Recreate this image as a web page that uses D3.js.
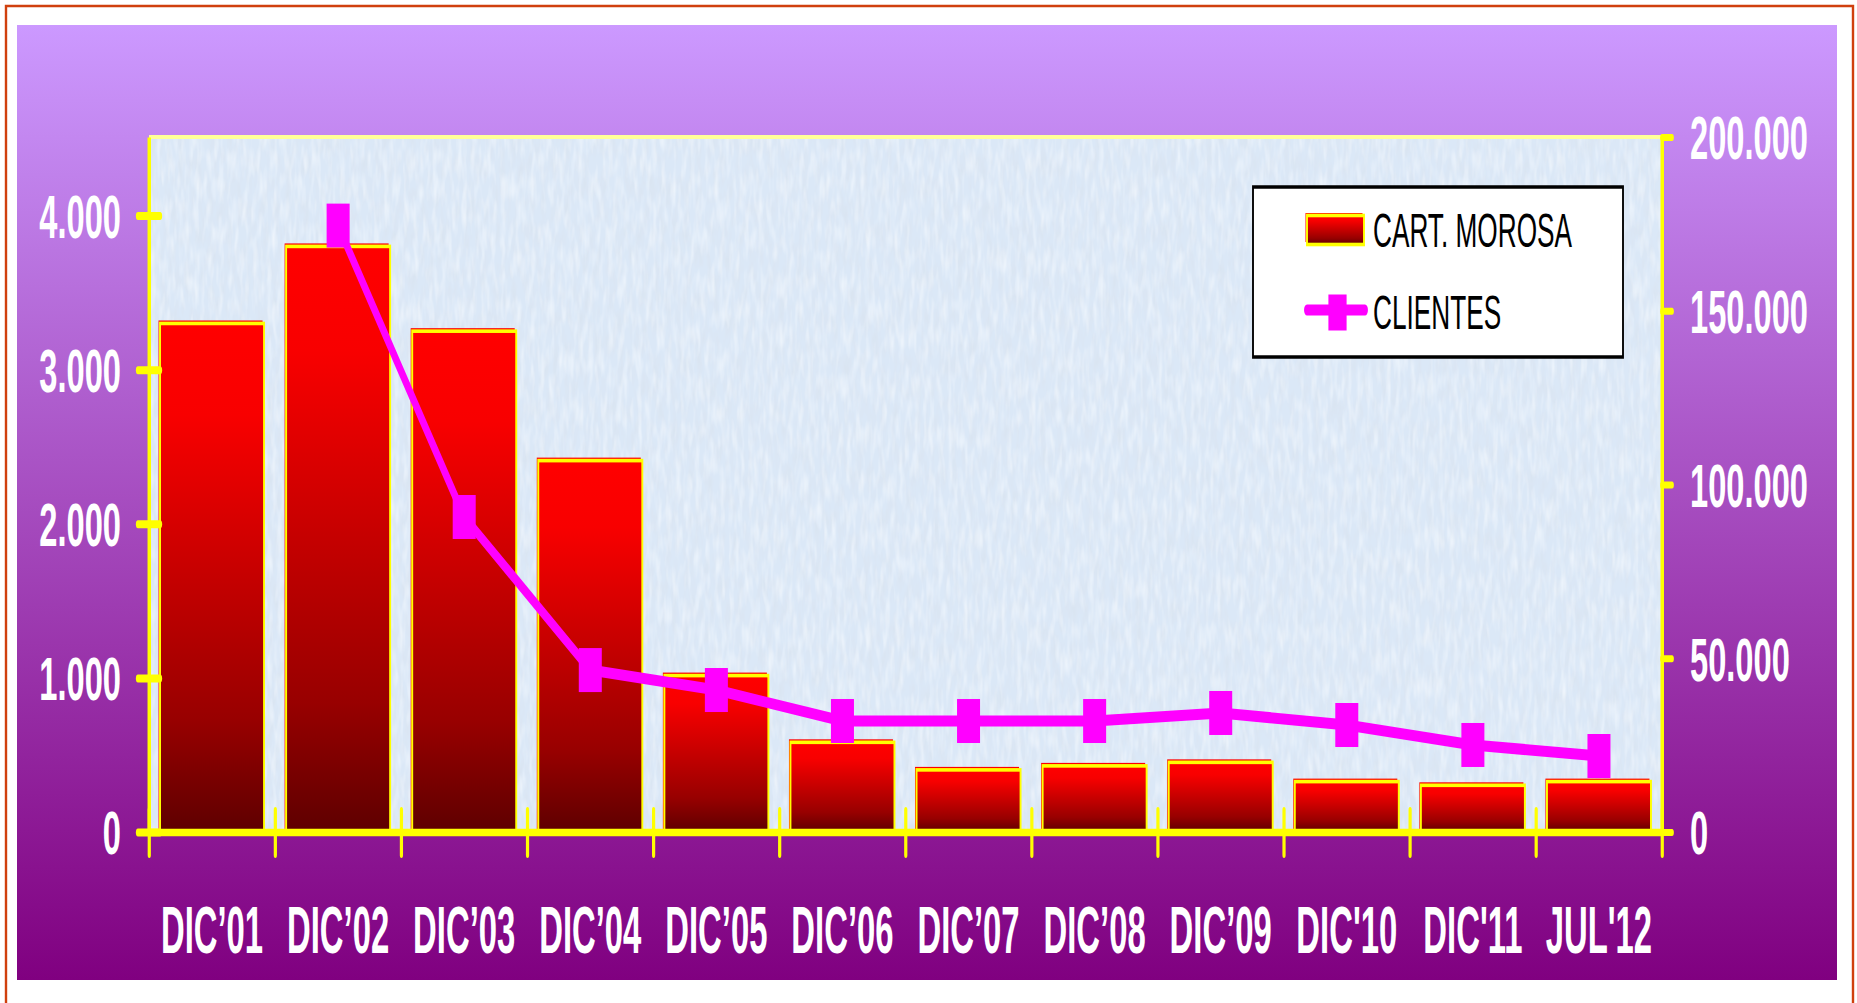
<!DOCTYPE html>
<html>
<head>
<meta charset="utf-8">
<script src="https://cdn.jsdelivr.net/npm/d3@7"></script>
<style>
  html, body { margin: 0; padding: 0; background: #ffffff; overflow: hidden; }
  svg { display: block; }
  text { font-family: "Liberation Sans", Arial, Helvetica, sans-serif; }
</style>
</head>
<body>
<svg id="chart" width="1857" height="1003"></svg>
<script>
// ---- data ----
const categories = ["DIC’01", "DIC’02", "DIC’03", "DIC’04", "DIC’05", "DIC’06",
                    "DIC’07", "DIC’08", "DIC’09", "DIC'10", "DIC'11", "JUL'12"];
const cartMorosa = [3300, 3800, 3250, 2410, 1015, 582, 403, 429, 452, 327, 303, 327];
const clientes   = [null, 174500, 90650, 46600, 40860, 31940, 31940, 31940, 34250, 30790, 25040, 21870];
const leftTicks  = [0, 1000, 2000, 3000, 4000];
const rightTicks = [0, 50000, 100000, 150000, 200000];
const legendLabels = ["CART. MOROSA", "CLIENTES"];

// ---- layout ----
const W = 1857, H = 1003;
const K = 0.535;              // the whole drawing is compressed horizontally by this factor
const ux = v => v / K;        // screen x -> drawing x
const frame = { left: 149, right: 1662, top: 137, bottom: 832 };

const fmt = d3.formatLocale({ decimal: ",", thousands: ".", grouping: [3], currency: ["$", ""] }).format(",");

const svg = d3.select("#chart");
const defs = svg.append("defs");

// background gradient
const bgGrad = defs.append("linearGradient").attr("id", "bgGrad")
  .attr("x1", 0).attr("y1", 0).attr("x2", 0).attr("y2", 1);
bgGrad.append("stop").attr("offset", 0).attr("stop-color", "#cc99ff");
bgGrad.append("stop").attr("offset", 1).attr("stop-color", "#800080");

// bar gradient: bright red at the top fading to dark red
const barGrad = defs.append("linearGradient").attr("id", "barGrad")
  .attr("x1", 0).attr("y1", 0).attr("x2", 0).attr("y2", 1);
[[0, "#ff0000"], [0.18, "#f80000"], [0.78, "#980000"], [1, "#5e0000"]].forEach(([o, c]) =>
  barGrad.append("stop").attr("offset", o).attr("stop-color", c));

// paper texture for the plot area
function paperFilter(id, freq, octaves, seed, matrix) {
  const f = defs.append("filter").attr("id", id)
    .attr("filterUnits", "userSpaceOnUse")
    .attr("x", ux(frame.left)).attr("y", frame.top)
    .attr("width", ux(frame.right - frame.left)).attr("height", frame.bottom - frame.top);
  f.append("feTurbulence").attr("type", "fractalNoise")
    .attr("baseFrequency", freq).attr("numOctaves", octaves).attr("seed", seed).attr("result", "noise");
  f.append("feColorMatrix").attr("in", "noise").attr("type", "matrix").attr("values", matrix);
}
paperFilter("paper", "0.09 0.045", 3, 5, "0 0 0 0 0.70  0 0 0 0 0.77  0 0 0 0 0.86  1.4 0 0 0 -0.56");
paperFilter("paper2", "0.11 0.04", 2, 11, "0 0 0 0 0.94  0 0 0 0 0.97  0 0 0 0 1  1.2 0 0 0 -0.50");

// outer page border
svg.append("path")
  .attr("d", `M6,${H + 10}V6H1853V${H + 10}`)
  .attr("fill", "none").attr("stroke", "#d0400e").attr("stroke-width", 2.4);

const g = svg.append("g").attr("transform", `scale(${K},1)`);

// purple panel
g.append("rect")
  .attr("x", ux(17)).attr("y", 25)
  .attr("width", ux(1837 - 17)).attr("height", 980 - 25)
  .attr("fill", "url(#bgGrad)");

// plot area
const plotW = ux(frame.right - frame.left), plotH = frame.bottom - frame.top;
g.append("rect").attr("x", ux(frame.left)).attr("y", frame.top)
  .attr("width", plotW).attr("height", plotH).attr("fill", "#dbe8f7");
g.append("rect").attr("x", ux(frame.left)).attr("y", frame.top)
  .attr("width", plotW).attr("height", plotH).attr("fill", "#000").attr("filter", "url(#paper)");
g.append("rect").attr("x", ux(frame.left)).attr("y", frame.top)
  .attr("width", plotW).attr("height", plotH).attr("fill", "#000").attr("filter", "url(#paper2)");
// light top edge of the plot area
g.append("line")
  .attr("x1", ux(frame.left)).attr("x2", ux(frame.right))
  .attr("y1", frame.top).attr("y2", frame.top)
  .attr("stroke", "#ffff99").attr("stroke-width", 4);

// ---- scales ----
const x = d3.scaleBand().domain(categories)
  .range([ux(frame.left), ux(frame.right)])
  .paddingInner(0.175).paddingOuter(0.0875);
const xEdge = d3.scaleLinear().domain([0, categories.length])
  .range([ux(frame.left), ux(frame.right)]);
const yL = d3.scaleLinear().domain([0, 4510]).range([frame.bottom, frame.top]);
const yR = d3.scaleLinear().domain([0, 200000]).range([frame.bottom, frame.top]);

const barData = categories.map((c, i) => ({ c, v: cartMorosa[i] }));
const lineData = categories.map((c, i) => ({ c, v: clientes[i] }));

// ---- bars (red backing + gradient face with yellow rim) ----
const bars = g.append("g");
bars.selectAll("rect.back").data(barData).join("rect").attr("class", "back")
  .attr("x", d => x(d.c) - ux(1.5))
  .attr("y", d => yL(d.v) - 3)
  .attr("width", x.bandwidth())
  .attr("height", d => yL(0) - yL(d.v))
  .attr("fill", "#ff0000");
bars.selectAll("rect.face").data(barData).join("rect").attr("class", "face")
  .attr("x", d => x(d.c))
  .attr("y", d => yL(d.v))
  .attr("width", x.bandwidth())
  .attr("height", d => yL(0) - yL(d.v))
  .attr("fill", "url(#barGrad)")
  .attr("stroke", "#ffff00").attr("stroke-width", 3.6);

// ---- axes ----
const yellow = "#ffff00";

// category boundary ticks along the bottom
const xTicks = g.append("g").attr("transform", `translate(0,${frame.bottom})`)
  .call(d3.axisBottom(xEdge).tickValues(d3.range(categories.length + 1)).tickFormat("").tickSizeOuter(0));
xTicks.select(".domain").attr("stroke", yellow).attr("stroke-width", 7.5);
xTicks.selectAll(".tick line")
  .attr("y1", -22).attr("y2", 23)
  .attr("stroke", yellow).attr("stroke-width", 6).attr("stroke-linecap", "round");

// category labels
const xLabels = g.append("g").attr("transform", `translate(0,${frame.bottom})`)
  .call(d3.axisBottom(x).tickSize(0).tickSizeOuter(0));
xLabels.select(".domain").remove();
xLabels.selectAll(".tick text")
  .attr("y", 121).attr("dy", 0)
  .attr("transform", "scale(0.93,1)")
  .attr("fill", "#ffffff")
  .attr("font-size", 66).attr("font-weight", "bold")
  .attr("font-family", "'Liberation Sans', Arial, sans-serif");

// left axis
const axL = g.append("g").attr("transform", `translate(${ux(frame.left)},0)`)
  .call(d3.axisLeft(yL).tickValues(leftTicks).tickFormat(fmt).tickSizeOuter(0));
axL.select(".domain").attr("stroke", yellow).attr("stroke-width", 6.5);
axL.selectAll(".tick line")
  .attr("x1", -ux(11)).attr("x2", ux(11))
  .attr("stroke", yellow).attr("stroke-width", 8).attr("stroke-linecap", "round");
axL.selectAll(".tick text")
  .attr("x", -ux(28)).attr("dy", "0.36em")
  .attr("fill", "#ffffff").attr("font-size", 61).attr("font-weight", "bold")
  .attr("font-family", "'Liberation Sans', Arial, sans-serif");

// right axis
const axR = g.append("g").attr("transform", `translate(${ux(frame.right)},0)`)
  .call(d3.axisRight(yR).tickValues(rightTicks).tickFormat(fmt).tickSizeOuter(0));
axR.select(".domain").attr("stroke", yellow).attr("stroke-width", 6.5);
axR.selectAll(".tick line")
  .attr("x1", 0).attr("x2", ux(10))
  .attr("stroke", yellow).attr("stroke-width", 7).attr("stroke-linecap", "round");
axR.selectAll(".tick text")
  .attr("x", ux(28)).attr("dy", "0.36em")
  .attr("fill", "#ffffff").attr("font-size", 61).attr("font-weight", "bold")
  .attr("font-family", "'Liberation Sans', Arial, sans-serif");

// ---- CLIENTES line ----
const magenta = "#ff00ff";
const cx = d => x(d.c) + x.bandwidth() / 2;
const line = d3.line().defined(d => d.v != null).x(cx).y(d => yR(d.v));
g.append("path").datum(lineData)
  .attr("d", line)
  .attr("fill", "none").attr("stroke", magenta)
  .attr("stroke-width", 11).attr("stroke-linejoin", "round");

const mW = 43, mH = 44;
g.append("g").selectAll("rect").data(lineData.filter(d => d.v != null)).join("rect")
  .attr("x", d => cx(d) - mW / 2)
  .attr("y", d => yR(d.v) - mH / 2)
  .attr("width", mW).attr("height", mH)
  .attr("fill", magenta);

// ---- legend ----
const lg = g.append("g");
lg.append("rect")
  .attr("x", ux(1253)).attr("y", 187)
  .attr("width", ux(1623 - 1253)).attr("height", 357 - 187)
  .attr("fill", "#ffffff").attr("stroke", "#000000").attr("stroke-width", 3.5);

// bar swatch
lg.append("rect")
  .attr("x", ux(1305.5)).attr("y", 213)
  .attr("width", ux(57)).attr("height", 29)
  .attr("fill", "#ff0000");
lg.append("rect")
  .attr("x", ux(1307)).attr("y", 215.5)
  .attr("width", ux(57)).attr("height", 29)
  .attr("fill", "url(#barGrad)").attr("stroke", yellow).attr("stroke-width", 3.6);

// line swatch
lg.append("line")
  .attr("x1", ux(1307)).attr("x2", ux(1365))
  .attr("y1", 310).attr("y2", 310)
  .attr("stroke", magenta).attr("stroke-width", 11).attr("stroke-linecap", "round");
lg.append("rect")
  .attr("x", ux(1337.5) - 17).attr("y", 312.5 - 18)
  .attr("width", 34).attr("height", 36)
  .attr("fill", magenta);

lg.selectAll("text").data(legendLabels).join("text")
  .attr("x", ux(1373))
  .attr("y", (d, i) => i === 0 ? 247 : 329)
  .attr("fill", "#000000")
  .attr("font-size", 49)
  .text(d => d);
</script>
</body>
</html>
